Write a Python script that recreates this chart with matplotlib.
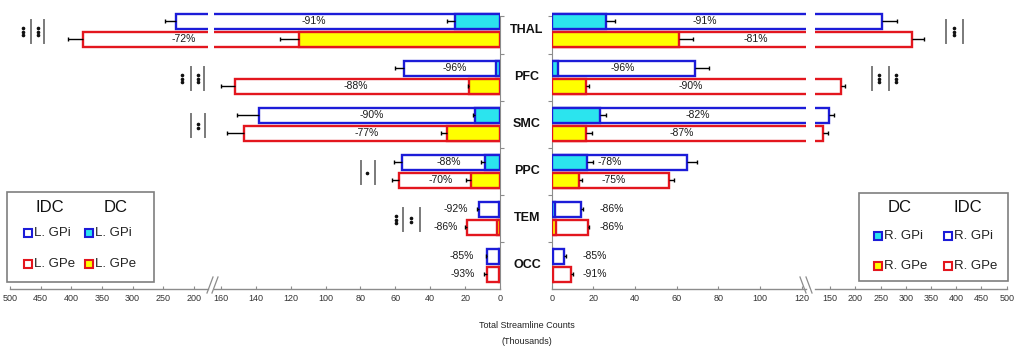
import matplotlib
matplotlib.use("Agg")
import matplotlib.pyplot as plt
import matplotlib.transforms as mtransforms
from matplotlib.patches import Rectangle
from matplotlib.lines import Line2D
import numpy as np

plt.rcParams['font.family'] = ['Liberation Sans', 'DejaVu Sans']

# ---------------- data (thousands of streamlines) ----------------
categories = ["THAL", "PFC", "SMC", "PPC", "TEM", "OCC"]

left_idc_gpi = [230, 55, 138, 56, 12, 7.3]
left_idc_gpi_err = [17, 5, 13, 5, 1.2, 0.7]
left_dc_gpi = [25.6, 2.3, 14.2, 8.6, 0.8, 0.8]
left_dc_gpi_err = [5, 0, 1, 2.3, 0, 0]
left_idc_gpe = [381, 152, 147, 58, 19, 7.6]
left_idc_gpe_err = [24, 8, 9.3, 4, 1, 1.5]
left_dc_gpe = [115, 17.6, 30.6, 16.8, 2, 0.5]
left_dc_gpe_err = [11, 0.6, 3.4, 2.7, 0, 0]

right_idc_gpi = [252, 68.8, 147.7, 64.8, 14.1, 5.8]
right_idc_gpi_err = [30, 6.5, 10.6, 4.8, 1.1, 1]
right_dc_gpi = [25.9, 2.9, 23.2, 16.8, 1.6, 0.8]
right_dc_gpi_err = [4.3, 0, 2.9, 2.9, 0, 0]
right_idc_gpe = [311.7, 171.5, 135.2, 56.1, 17.3, 9.1]
right_idc_gpe_err = [24, 8, 10, 2.6, 0.8, 1]
right_dc_gpe = [61.1, 16.5, 16.5, 13.1, 2.2, 0.8]
right_dc_gpe_err = [6.6, 1.4, 2.8, 1.4, 0, 0]

left_gpi_pct = ["-91%", "-96%", "-90%", "-88%", "-92%", "-85%"]
left_gpe_pct = ["-72%", "-88%", "-77%", "-70%", "-86%", "-93%"]
right_gpi_pct = ["-91%", "-96%", "-82%", "-78%", "-86%", "-85%"]
right_gpe_pct = ["-81%", "-90%", "-87%", "-75%", "-86%", "-91%"]

# significance marks: digit = number of dots, '|' = bar
sig_left = ["3|3|", "3|3|", "|2|", "|1|", "3|2|", ""]
sig_right = ["|3|", "|3|3", "", "", "", ""]

left_outer_ticks = [500, 450, 400, 350, 300, 250, 200]
left_inner_ticks = [160, 140, 120, 100, 80, 60, 40, 20, 0]
right_inner_ticks = [0, 20, 40, 60, 80, 100, 120]
right_outer_ticks = [150, 200, 250, 300, 350, 400, 450, 500]

left_legend_labels = ["L. GPi", "L. GPe"]
right_legend_labels = ["R. GPi", "R. GPe"]

# ---------------- layout ----------------
W, H = 1021, 355
fig = plt.figure(figsize=(W / 100, H / 100), dpi=100)


def fx(x):
    return x / W


def fy(y):
    return 1 - y / H


Y_TOP, Y_BOT = 6.8, 288.8
n = len(categories)
pos = np.arange(n)
OFF, BH = 0.19, 0.32
PXY = (Y_BOT - Y_TOP) / n  # pixels per category

BLUE = '#1c1cd8'
RED = '#e3161e'
CYAN = '#2be4ee'
YEL = '#ffff00'
GRAY = '#8c8c8c'
TICKFONT = ['Liberation Sans Narrow', 'Liberation Sans', 'DejaVu Sans']


def make_ax(x0, x1, xlim, ticks):
    ax = fig.add_axes([fx(x0), fy(Y_BOT), (x1 - x0) / W, (Y_BOT - Y_TOP) / H])
    ax.set_xlim(*xlim)
    ax.set_ylim(n - 0.5, -0.5)
    for s in ['top', 'left', 'right']:
        ax.spines[s].set_visible(False)
    ax.spines['bottom'].set_color(GRAY)
    ax.spines['bottom'].set_linewidth(1.0)
    ax.set_xticks(ticks)
    ax.set_xticklabels([str(t) for t in ticks], fontsize=6.5, color='#333333',
                       family=TICKFONT)
    ax.tick_params(axis='x', direction='in', length=2.5, color=GRAY, pad=4)
    ax.set_yticks([])
    ax.patch.set_alpha(0)
    return ax


ax_lo = make_ax(10, 208, (500, 177), left_outer_ticks)
ax_li = make_ax(214, 500, (164, 0), left_inner_ticks)
ax_ri = make_ax(551.7, 806, (0, 122), right_inner_ticks)
ax_ro = make_ax(815, 1006.7, (120, 500), right_outer_ticks)

bounds_ticks = [-0.3, 0.5, 1.5, 2.5, 3.5, 4.5]
ax_li.spines['right'].set_visible(True)
ax_li.spines['right'].set_color(GRAY)
ax_li.spines['right'].set_bounds(n - 0.5, -0.3)
ax_li.yaxis.tick_right()
ax_li.set_yticks(bounds_ticks)
ax_li.tick_params(axis='y', direction='out', length=3, color=GRAY, labelright=False)
ax_ri.spines['left'].set_visible(True)
ax_ri.spines['left'].set_color(GRAY)
ax_ri.spines['left'].set_bounds(n - 0.5, -0.3)
ax_ri.set_yticks(bounds_ticks)
ax_ri.tick_params(axis='y', direction='out', length=3, color=GRAY, labelleft=False)


def errbars(ax, y, vals, errs):
    for yy, v, e in zip(y, vals, errs):
        if e <= 0:
            continue
        ax.plot([v, v + e], [yy, yy], color='black', lw=1.0, zorder=4,
                solid_capstyle='butt')
        ax.plot([v + e], [yy], marker='|', ms=3.5, mew=1.0, color='black',
                zorder=4, ls='none')


def draw_side(axes, groups):
    for ax in axes:
        for idc, idce, dc, dce, y, col, fill in groups:
            ax.barh(y, idc, height=BH, color='white', edgecolor=col,
                    linewidth=1.7, zorder=2)
            ax.barh(y, dc, height=BH, color=fill, edgecolor=col,
                    linewidth=1.7, zorder=3)
            errbars(ax, y, idc, idce)
            errbars(ax, y, dc, dce)


draw_side([ax_lo, ax_li], [
    (left_idc_gpi, left_idc_gpi_err, left_dc_gpi, left_dc_gpi_err, pos - OFF, BLUE, CYAN),
    (left_idc_gpe, left_idc_gpe_err, left_dc_gpe, left_dc_gpe_err, pos + OFF, RED, YEL)])
draw_side([ax_ri, ax_ro], [
    (right_idc_gpi, right_idc_gpi_err, right_dc_gpi, right_dc_gpi_err, pos - OFF, BLUE, CYAN),
    (right_idc_gpe, right_idc_gpe_err, right_dc_gpe, right_dc_gpe_err, pos + OFF, RED, YEL)])

# percentage labels (x in pixels, y on category scale)
trc = mtransforms.blended_transform_factory(fig.transFigure, ax_li.transData)
lab_x = {
    'lgpi': [314, 454.5, 372, 448.5, 456, 461.7],
    'lgpe': [184, 356, 367, 441, 445.7, 462.3],
    'rgpi': [705, 623, 698, 610, 611.5, 595],
    'rgpe': [756, 691, 682, 613.5, 611.5, 595],
}
for key, labels, off in [('lgpi', left_gpi_pct, -OFF), ('lgpe', left_gpe_pct, OFF),
                         ('rgpi', right_gpi_pct, -OFF), ('rgpe', right_gpe_pct, OFF)]:
    for i, lab in enumerate(labels):
        fig.text(fx(lab_x[key][i]), i + off, lab, transform=trc, ha='center',
                 va='center', fontsize=7.5, color='#1a1a1a', zorder=5)

for i, c in enumerate(categories):
    fig.text(fx(527), i, c, transform=trc, ha='center', va='center',
             fontsize=9, fontweight='bold', color='#111111')

# axis title
fig.text(fx(527), fy(326), "Total Streamline Counts", ha='center', va='center',
         fontsize=6.5, color='#222222', family=TICKFONT)
fig.text(fx(527), fy(342), "(Thousands)", ha='center', va='center',
         fontsize=6.5, color='#222222', family=TICKFONT)

# axis break marks
for (xa, ya, xb, yb) in [(207, 293, 213, 277), (212, 293, 218, 277),
                         (800, 277, 806, 293), (806, 277, 812, 293)]:
    fig.add_artist(Line2D([fx(xa), fx(xb)], [fy(ya), fy(yb)], color=GRAY, lw=0.9))

# significance markers
sig_left_x = [[22.7, 31, 38.3, 44.3], [181.7, 190.7, 197.7, 204.3], [190.7, 197.7, 205],
              [360.7, 367.3, 375], [395.7, 402.7, 411, 420], []]
sig_right_x = [[946, 954.3, 963.3], [872, 879.3, 888.7, 896], [], [], [], []]
dot_offsets = {1: [0.0], 2: [-2.0, 2.0], 3: [-3.7, 0.0, 3.7]}
for sigs, xs_all in [(sig_left, sig_left_x), (sig_right, sig_right_x)]:
    for i, (s, xs) in enumerate(zip(sigs, xs_all)):
        yc = i + 0.03
        for ch, x in zip(s, xs):
            if ch == '|':
                fig.add_artist(Line2D([fx(x), fx(x)], [yc - 11.5 / PXY, yc + 11.5 / PXY],
                                      transform=trc, color='#7a7a7a', lw=1.4))
            else:
                offs = dot_offsets[int(ch)]
                fig.add_artist(Line2D([fx(x)] * len(offs), [yc + o / PXY for o in offs],
                                      transform=trc, ls='none', marker='o', ms=1.6,
                                      color='#111111'))


# legends
def legend(box, headers, rows):
    x0, y0, x1, y1 = box
    fig.add_artist(Rectangle((fx(x0), fy(y1)), (x1 - x0) / W, (y1 - y0) / H,
                             transform=fig.transFigure, facecolor='white',
                             edgecolor='#7f7f7f', lw=1.2, zorder=10))
    for hx, hy, txt in headers:
        fig.text(fx(hx), fy(hy), txt, ha='center', va='center', fontsize=12,
                 color='#111111', zorder=11)
    for mx, my, fc, ec, txt in rows:
        fig.add_artist(Line2D([fx(mx)], [fy(my)], marker='s', ms=5.8, mfc=fc, mec=ec,
                              mew=1.5, ls='none', transform=fig.transFigure, zorder=11))
        fig.text(fx(mx + 6), fy(my), txt, ha='left', va='center', fontsize=9.5,
                 color='#222222', zorder=11)


legend((7.3, 191.7, 154.3, 281.7),
       [(50, 207, "IDC"), (116, 207, "DC")],
       [(28, 232.7, 'white', BLUE, left_legend_labels[0]),
        (89.3, 232.7, CYAN, BLUE, left_legend_labels[0]),
        (28, 264, 'white', RED, left_legend_labels[1]),
        (89.3, 264, YEL, RED, left_legend_labels[1])])
legend((859.3, 192.7, 1007.7, 281),
       [(900, 207, "DC"), (968.3, 207, "IDC")],
       [(878.3, 236, CYAN, BLUE, right_legend_labels[0]),
        (948.3, 236, 'white', BLUE, right_legend_labels[0]),
        (878.3, 265.7, YEL, RED, right_legend_labels[1]),
        (948.3, 265.7, 'white', RED, right_legend_labels[1])])

fig.savefig("out.png", dpi=100)
